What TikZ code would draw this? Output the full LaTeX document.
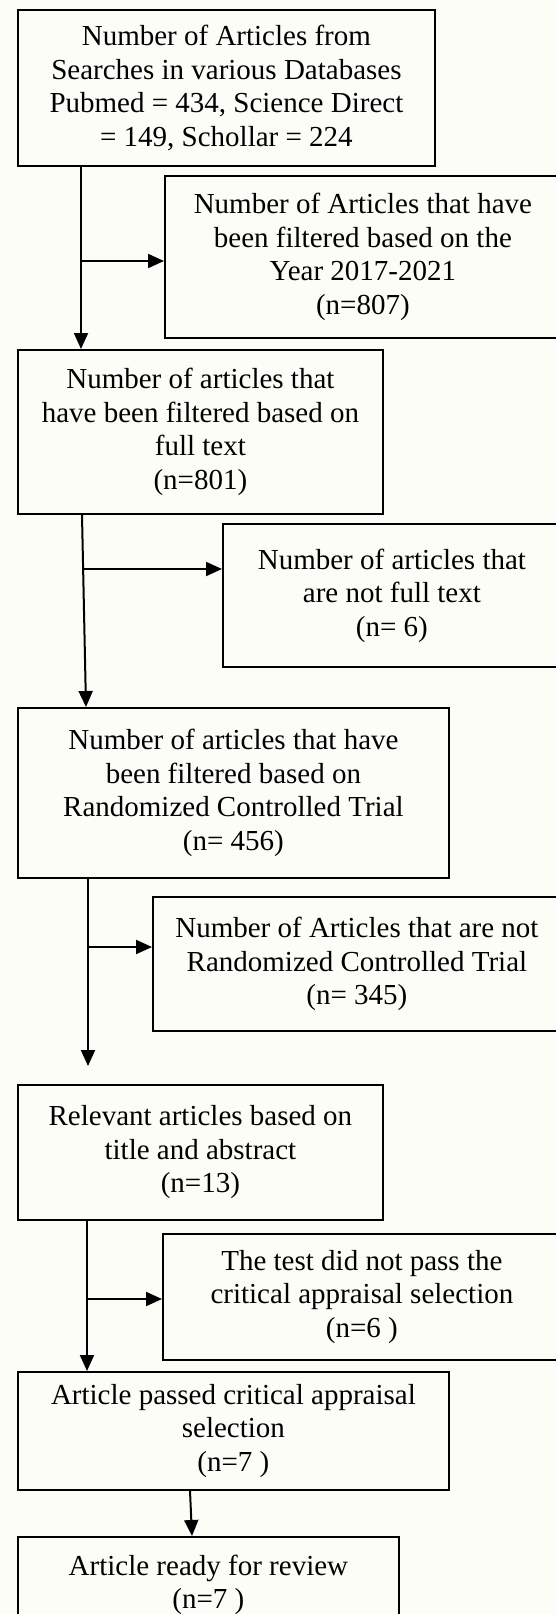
\documentclass[tikz,border=0pt]{standalone}
\usepackage{fontspec}
\setmainfont{Liberation Serif}
\usetikzlibrary{arrows.meta}
\definecolor{bgcream}{RGB}{253,253,248}
\begin{document}
\begin{tikzpicture}[x=1pt,y=-1pt,
  box/.style={draw, line width=1.8pt, anchor=north west, align=center, inner sep=0pt,
              font=\fontsize{29}{33.5}\selectfont},
  arr/.style={line width=2pt, -{Triangle[length=16pt,width=14pt]}}]
\clip (0,0) rectangle (556,1614);
\fill[bgcream] (0,0) rectangle (556,1614);

% boxes
\node[box, minimum width=417pt, minimum height=156pt] (b1) at (17,9)
  {Number of Articles from\\Searches in various Databases\\Pubmed = 434, Science Direct\\= 149, Schollar = 224};
\node[box, minimum width=396pt, minimum height=162pt] (b2) at (164,175)
  {Number of Articles that have\\been filtered based on the\\Year 2017-2021\\(n=807)};
\node[box, minimum width=365pt, minimum height=164pt] (b3) at (17,349)
  {Number of articles that\\have been filtered based on\\full text\\(n=801)};
\node[box, minimum width=338pt, minimum height=143pt] (b4) at (222,523)
  {Number of articles that\\are not full text\\(n= 6)};
\node[box, minimum width=431pt, minimum height=170pt] (b5) at (17,707)
  {Number of articles that have\\been filtered based on\\Randomized Controlled Trial\\(n= 456)};
\node[box, minimum width=408pt, minimum height=134pt] (b6) at (152,896)
  {Number of Articles that are not\\Randomized Controlled Trial\\(n= 345)};
\node[box, minimum width=365pt, minimum height=135pt] (b7) at (17,1084)
  {Relevant articles based on\\title and abstract\\(n=13)};
\node[box, minimum width=398pt, minimum height=126pt] (b8) at (162,1233)
  {The test did not pass the\\critical appraisal selection\\(n=6 )};
\node[box, minimum width=431pt, minimum height=118pt] (b9) at (17,1371)
  {Article passed critical appraisal\\selection\\(n=7 )};
\node[box, minimum width=381pt, minimum height=96pt] (b10) at (17,1536)
  {Article ready for review\\(n=7 )};

% connector helpers
\coordinate (c1) at (81,0);
\coordinate (j1) at (81,261);
\coordinate (s2) at (82,0);
\coordinate (e2) at (86,0);
\coordinate (j2) at (83,569);
\coordinate (e3) at (88,1066);
\coordinate (j3) at (88,947);
\coordinate (c4) at (87,0);
\coordinate (j4) at (87,1299);
\coordinate (s5) at (190,0);
\coordinate (e5) at (192,0);

% connectors
\draw[arr] (b1.south -| c1) -- (b3.north -| c1);
\draw[arr] (j1) -- (j1 -| b2.west);
\draw[arr] (b3.south -| s2) -- (b5.north -| e2);
\draw[arr] (j2) -- (j2 -| b4.west);
\draw[arr] (b5.south -| e3) -- (e3);
\draw[arr] (j3) -- (j3 -| b6.west);
\draw[arr] (b7.south -| c4) -- (b9.north -| c4);
\draw[arr] (j4) -- (j4 -| b8.west);
\draw[arr] (b9.south -| s5) -- (b10.north -| e5);
\end{tikzpicture}
\end{document}
